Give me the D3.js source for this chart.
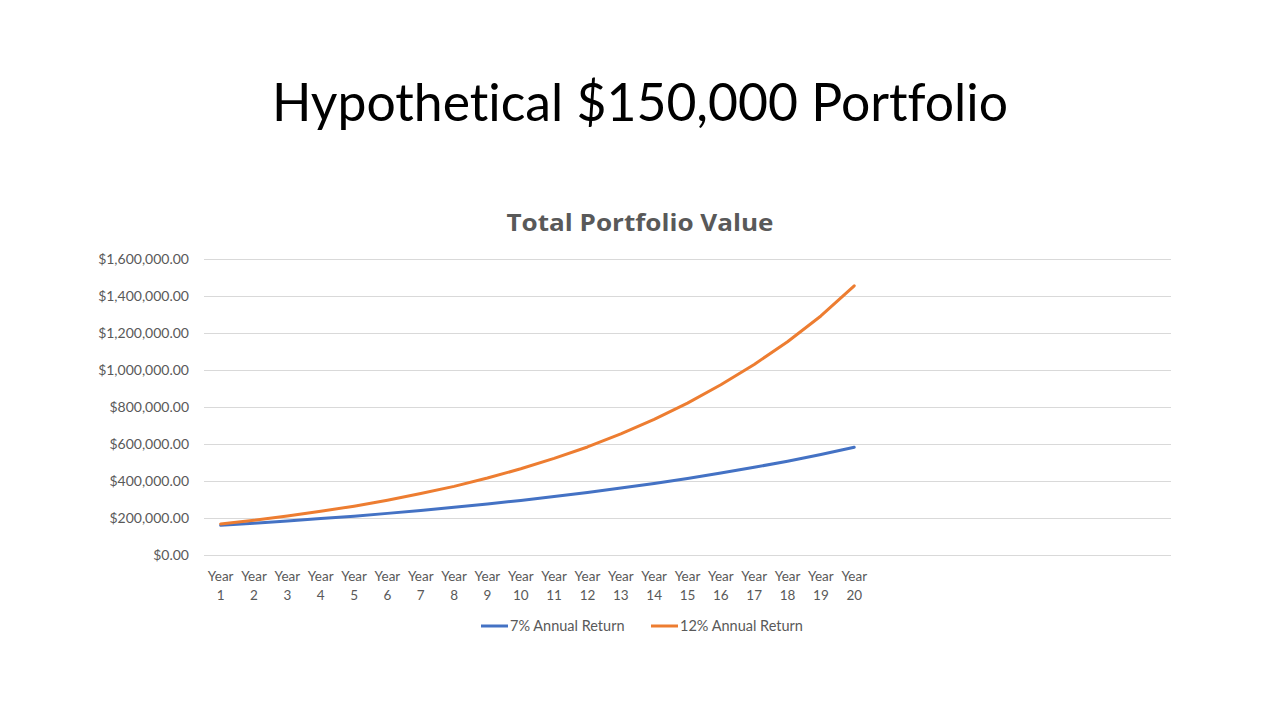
<!DOCTYPE html>
<html>
<head>
<meta charset="utf-8">
<script src="https://cdn.jsdelivr.net/npm/d3@7/dist/d3.min.js"></script>
<style>
  html, body { margin: 0; padding: 0; background: #fff; }
  svg { display: block; font-variant-ligatures: none; }
</style>
</head>
<body>
<svg id="chart" width="1280" height="720"></svg>
<script>
// ---- data ----
const categories = ["Year 1","Year 2","Year 3","Year 4","Year 5","Year 6","Year 7","Year 8","Year 9","Year 10",
  "Year 11","Year 12","Year 13","Year 14","Year 15","Year 16","Year 17","Year 18","Year 19","Year 20"];
const emptySlots = 9; // blank category rows to the right of Year 20
const seriesNames = ["7% Annual Return", "12% Annual Return"];
const return7 = [160500,172000,184000,197000,210000,225000,241000,258000,276000,295000,
  316000,338000,362000,387000,414000,443000,474000,507000,543000,582000];
const return12 = [168000,188000,211000,236000,264000,296000,332000,371000,416000,466000,
  522000,584000,655000,733000,821000,920000,1030000,1153000,1292000,1455000];
const yTicks = [0,200000,400000,600000,800000,1000000,1200000,1400000,1600000];
const slideTitle = "Hypothetical $150,000 Portfolio";
const chartTitle = "Total Portfolio Value";

(function () {
// ---- layout ----
const svg = d3.select("#chart");
const font = "Lato, 'Open Sans', sans-serif";
const colors = ["#4472C4", "#ED7D31"];
const plotLeft = 204, plotRight = 1171, plotTop = 259, plotBottom = 555;

const domain = categories.concat(d3.range(emptySlots).map(i => "__blank" + i));
const x = d3.scaleBand().domain(domain).range([plotLeft, plotRight]).padding(0);
const y = d3.scaleLinear().domain([0, 1600000]).range([plotBottom, plotTop]);
const cx = d => x(d) + x.bandwidth() / 2;

// slide title
svg.append("text")
  .attr("x", 640).attr("y", 121)
  .attr("text-anchor", "middle")
  .attr("font-family", font).attr("font-weight", 400)
  .attr("font-size", 52).attr("fill", "#000")
  .attr("textLength", 736).attr("lengthAdjust", "spacingAndGlyphs")
  .text(slideTitle);

// chart title
svg.append("text")
  .attr("x", 640).attr("y", 231)
  .attr("text-anchor", "middle")
  .attr("font-family", "'Open Sans', Lato, sans-serif").attr("font-weight", 700)
  .attr("font-size", 23.5).attr("fill", "#595959")
  .attr("textLength", 267).attr("lengthAdjust", "spacingAndGlyphs")
  .text(chartTitle);

// gridlines + y labels
const yAxis = d3.axisLeft(y).tickValues(yTicks)
  .tickSize(-(plotRight - plotLeft)).tickPadding(15)
  .tickFormat(d => "$" + d3.format(",.2f")(d));
const gy = svg.append("g").attr("transform", `translate(${plotLeft},0)`).call(yAxis);
gy.select(".domain").remove();
gy.selectAll(".tick line").attr("stroke", "#D9D9D9").attr("stroke-width", 1);
gy.selectAll(".tick text")
  .attr("font-family", font).attr("font-size", 14).attr("fill", "#595959");

// x axis labels (two lines)
const xAxis = d3.axisBottom(x).tickValues(categories).tickSize(0).tickFormat("");
const gx = svg.append("g").attr("transform", `translate(0,${plotBottom})`).call(xAxis);
gx.select(".domain").remove();
gx.selectAll(".tick").each(function(d) {
  const parts = d.split(" ");
  const t = d3.select(this).append("text")
    .attr("text-anchor", "middle")
    .attr("font-family", font).attr("font-size", 13.5).attr("fill", "#595959");
  t.append("tspan").attr("x", 0).attr("y", 26).text(parts[0]);
  t.append("tspan").attr("x", 0).attr("y", 45).text(parts[1]);
});

// lines
const line = d3.line().x((d, i) => cx(categories[i])).y(d => y(d));
[return7, return12].forEach((s, k) => {
  svg.append("path").datum(s)
    .attr("fill", "none").attr("stroke", colors[k])
    .attr("stroke-width", 3).attr("stroke-linejoin", "round").attr("stroke-linecap", "round")
    .attr("d", line);
});

// legend
const legendX = [481, 651];
seriesNames.forEach((name, k) => {
  const g = svg.append("g").attr("transform", `translate(${legendX[k]},626)`);
  g.append("line").attr("x1", 0).attr("x2", 27).attr("y1", 0).attr("y2", 0)
    .attr("stroke", colors[k]).attr("stroke-width", 3);
  g.append("text").attr("x", 29).attr("y", 5)
    .attr("font-family", font).attr("font-size", 14.5).attr("fill", "#595959")
    .text(name);
});
})();
</script>
</body>
</html>
